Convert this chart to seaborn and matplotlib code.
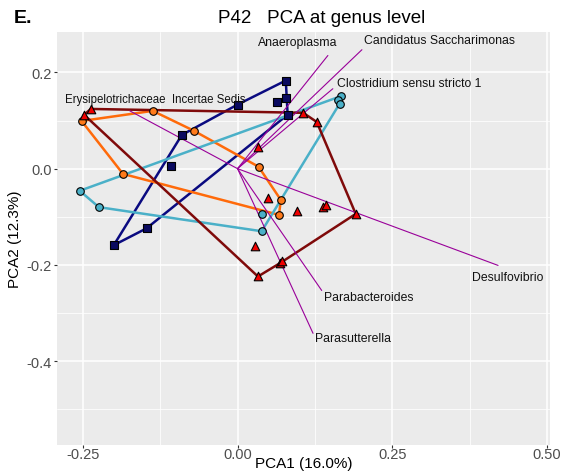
import numpy as np
import pandas as pd
import matplotlib
matplotlib.use("Agg")
import matplotlib.pyplot as plt
import seaborn as sns

# Sample scores on the first two principal components, per group
grp_a_x = [0.078, 0.063, 0.078, 0.081, 0.000, -0.090, -0.200, -0.147, -0.108]
grp_a_y = [0.183, 0.139, 0.147, 0.112, 0.133, 0.070, -0.159, -0.124, 0.006]

grp_b_x = [-0.252, -0.137, -0.071, -0.185, 0.034, 0.070, 0.067]
grp_b_y = [0.099, 0.120, 0.079, -0.011, 0.004, -0.065, -0.096]

grp_c_x = [-0.255, -0.224, 0.168, 0.162, 0.165, 0.039, 0.039]
grp_c_y = [-0.046, -0.080, 0.151, 0.143, 0.135, -0.094, -0.130]

grp_d_x = [-0.237, -0.248, 0.033, 0.106, 0.128, 0.191, 0.049, 0.096, 0.138,
           0.143, 0.028, 0.069, 0.072, 0.033]
grp_d_y = [0.124, 0.112, 0.045, 0.116, 0.097, -0.094, -0.061, -0.088, -0.080,
           -0.075, -0.161, -0.196, -0.192, -0.224]

# Genus loading vectors
genera = ["Anaeroplasma", "Candidatus Saccharimonas", "Clostridium sensu stricto 1",
          "Erysipelotrichaceae  Incertae Sedis", "Desulfovibrio",
          "Parabacteroides", "Parasutterella"]
load_x = [0.146, 0.201, 0.154, -0.174, 0.421, 0.136, 0.122]
load_y = [0.235, 0.247, 0.166, 0.120, -0.201, -0.253, -0.342]
label_x = [0.098, 0.327, 0.278, -0.133, 0.436, 0.212, 0.186]
label_y = [0.263, 0.268, 0.177, 0.145, -0.225, -0.266, -0.352]
label_size = [8.8, 8.8, 8.8, 8.3, 8.8, 8.8, 8.8]

groups = ["A", "B", "C", "D"]
line_colors = {"A": "#0A0A80", "B": "#FF6A0A", "C": "#4AB0C8", "D": "#7F0A0A"}
fill_colors = {"A": "#0A0A60", "B": "#FF7A1A", "C": "#4AB0C8", "D": "#F00000"}
markers = {"A": "s", "B": "o", "C": "o", "D": "^"}

df = pd.concat([
    pd.DataFrame({"PC1": grp_a_x, "PC2": grp_a_y, "group": "A"}),
    pd.DataFrame({"PC1": grp_b_x, "PC2": grp_b_y, "group": "B"}),
    pd.DataFrame({"PC1": grp_c_x, "PC2": grp_c_y, "group": "C"}),
    pd.DataFrame({"PC1": grp_d_x, "PC2": grp_d_y, "group": "D"}),
], ignore_index=True)


def convex_hull(pts):
    pts = sorted(set(map(tuple, pts)))
    if len(pts) < 3:
        return pts

    def cross(o, a, b):
        return (a[0] - o[0]) * (b[1] - o[1]) - (a[1] - o[1]) * (b[0] - o[0])

    lower, upper = [], []
    for p in pts:
        while len(lower) >= 2 and cross(lower[-2], lower[-1], p) <= 0:
            lower.pop()
        lower.append(p)
    for p in reversed(pts):
        while len(upper) >= 2 and cross(upper[-2], upper[-1], p) <= 0:
            upper.pop()
        upper.append(p)
    return lower[:-1] + upper[:-1]


sns.set_theme(style="darkgrid")
plt.rcParams["font.family"] = ["Liberation Sans", "DejaVu Sans"]

fig = plt.figure(figsize=(5.63, 4.77), dpi=100)
ax = fig.add_axes([0.102, 0.066, 0.875, 0.865])
ax.set_facecolor("#EBEBEB")

# group hulls
for g in groups:
    sub = df[df["group"] == g]
    hull = convex_hull(sub[["PC1", "PC2"]].values)
    hull.append(hull[0])
    hx, hy = zip(*hull)
    ax.plot(hx, hy, color=line_colors[g], lw=1.8, zorder=2,
            solid_joinstyle="round")

# loading vectors
for name, vx, vy, tx, ty, fs in zip(genera, load_x, load_y, label_x, label_y, label_size):
    ax.plot([0, vx], [0, vy], color="#990099", lw=0.8, zorder=3)
    ax.text(tx, ty, name, ha="center", va="center", fontsize=fs,
            color="#111111", zorder=5)

# sample points
for g in groups:
    sub = df[df["group"] == g]
    sns.scatterplot(data=sub, x="PC1", y="PC2", ax=ax, marker=markers[g],
                    color=fill_colors[g], edgecolor="black", linewidth=0.8,
                    s=30 if g != "D" else 38, zorder=4, legend=False)

ax.set_xlim(-0.291, 0.505)
ax.set_ylim(-0.573, 0.284)
ax.set_xticks([-0.25, 0.0, 0.25, 0.50])
ax.set_xticklabels(["-0.25", "0.00", "0.25", "0.50"])
ax.set_yticks([-0.4, -0.2, 0.0, 0.2])
ax.set_yticklabels(["-0.4", "-0.2", "0.0", "0.2"])
ax.set_xticks([-0.125, 0.125, 0.375], minor=True)
ax.set_yticks([-0.5, -0.3, -0.1, 0.1], minor=True)
ax.grid(which="major", color="white", lw=1.1)
ax.grid(which="minor", color="white", lw=0.55)
ax.set_axisbelow(True)
for s in ax.spines.values():
    s.set_visible(False)
ax.tick_params(which="major", length=2.0, width=0.8, color="#333333",
               labelcolor="#4D4D4D", labelsize=10.5, bottom=True, left=True)
ax.tick_params(axis="x", which="major", pad=0)
ax.tick_params(axis="y", which="major", pad=2)
ax.tick_params(which="minor", length=0)

ax.set_xlabel("PCA1 (16.0%)", fontsize=11, color="black")
ax.xaxis.set_label_coords(0.5, -0.0285)
ax.xaxis.label.set_va("top")
ax.set_ylabel("PCA2 (12.3%)", fontsize=11, color="black", labelpad=3)

fig.text(0.571, 0.962, "P42   PCA at genus level", ha="center", va="center",
         fontsize=13.5, color="black")
fig.text(0.025, 0.962, "E.", ha="left", va="center", fontsize=14,
         fontweight="bold", color="black")

fig.savefig("out.png", dpi=100)
